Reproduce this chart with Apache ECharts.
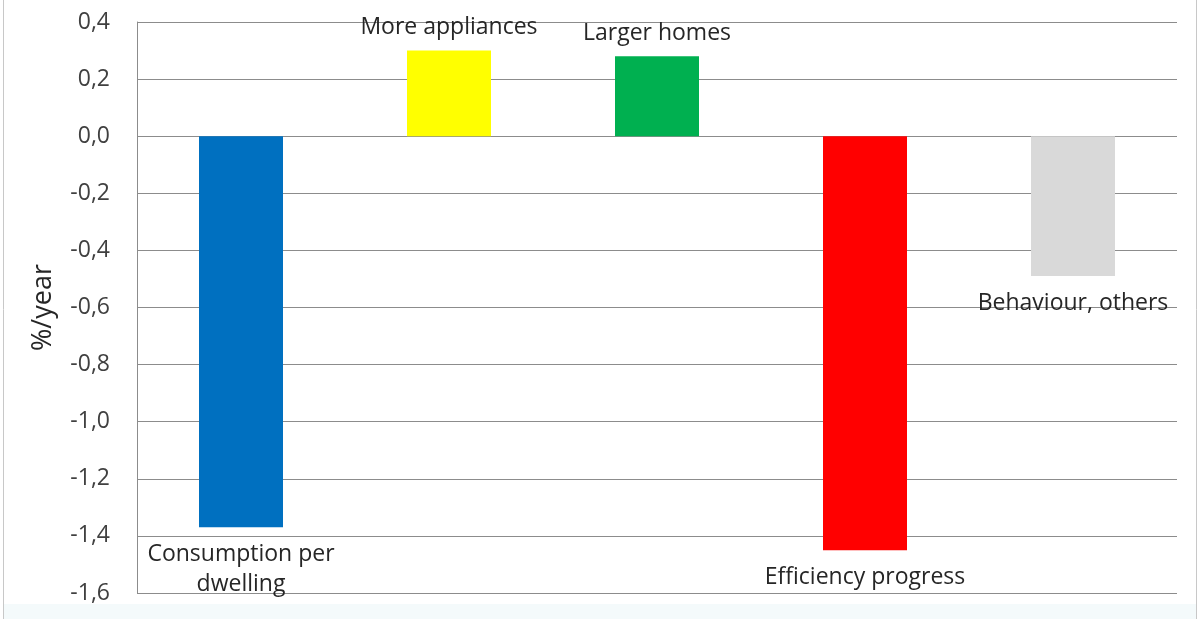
<!DOCTYPE html>
<html>
<head>
<meta charset="utf-8">
<title>Household consumption per dwelling – decomposition</title>
<script src="https://cdn.jsdelivr.net/npm/echarts@6/dist/echarts.min.js"></script>
<style>
  html, body { margin: 0; padding: 0; background: #ffffff; }
  #chart { width: 1200px; height: 619px; }
</style>
</head>
<body>
<div id="chart"></div>
<script>
// Drivers of the annual change in consumption per dwelling (%/year)
const categories = ['Consumption per\ndwelling', 'More appliances', 'Larger homes', 'Efficiency progress', 'Behaviour, others'];
const values = [-1.37, 0.30, 0.28, -1.45, -0.49];
const barColors = ['#0070c0', '#ffff00', '#00b050', '#ff0000', '#d9d9d9'];
const yTicks = { min: -1.6, max: 0.4, interval: 0.2 };
const yTitle = '%/year';

const FONT = '"Open Sans", "Noto Sans", sans-serif';

const chart = echarts.init(document.getElementById('chart'), null, { renderer: 'canvas' });

chart.setOption({
  animation: false,
  backgroundColor: '#ffffff',
  graphic: [
    // light frame around the chart area
    { type: 'rect', z: -10, silent: true,
      shape: { x: 3.5, y: -2, width: 1193, height: 640 },
      style: { fill: 'none', stroke: '#c8c8c8', lineWidth: 1 } },
    { type: 'rect', z: -11, silent: true,
      shape: { x: 4, y: 604, width: 1192, height: 15 },
      style: { fill: '#f4fafb' } }
  ],
  grid: { left: 137, right: 23, top: 22, bottom: 26, containLabel: false },
  xAxis: {
    type: 'category',
    data: categories,
    axisLine: { show: false },
    axisTick: { show: false },
    axisLabel: { show: false },
    splitLine: { show: false }
  },
  yAxis: {
    type: 'value',
    min: yTicks.min,
    max: yTicks.max,
    interval: yTicks.interval,
    name: yTitle,
    nameLocation: 'middle',
    nameGap: 80,
    nameRotate: 90,
    nameTextStyle: { fontFamily: FONT, fontSize: 27, color: '#262626' },
    axisLine: { show: true, lineStyle: { color: '#8c8c8c', width: 1 } },
    axisTick: { show: false },
    axisLabel: {
      margin: 27,
      fontFamily: FONT,
      fontSize: 23,
      color: '#404040',
      formatter: v => v.toFixed(1).replace('.', ',')
    },
    splitLine: { show: true, lineStyle: { color: '#8c8c8c', width: 1 } }
  },
  series: [{
    type: 'bar',
    barWidth: 84,
    data: values.map((v, i) => ({
      value: v,
      itemStyle: { color: barColors[i] },
      label: { position: v >= 0 ? 'top' : 'bottom', distance: v >= 0 ? 8 : 12 }
    })),
    label: {
      show: true,
      fontFamily: FONT,
      fontSize: 23,
      lineHeight: 30,
      color: '#262626',
      formatter: p => p.name
    }
  }]
});
</script>
</body>
</html>
